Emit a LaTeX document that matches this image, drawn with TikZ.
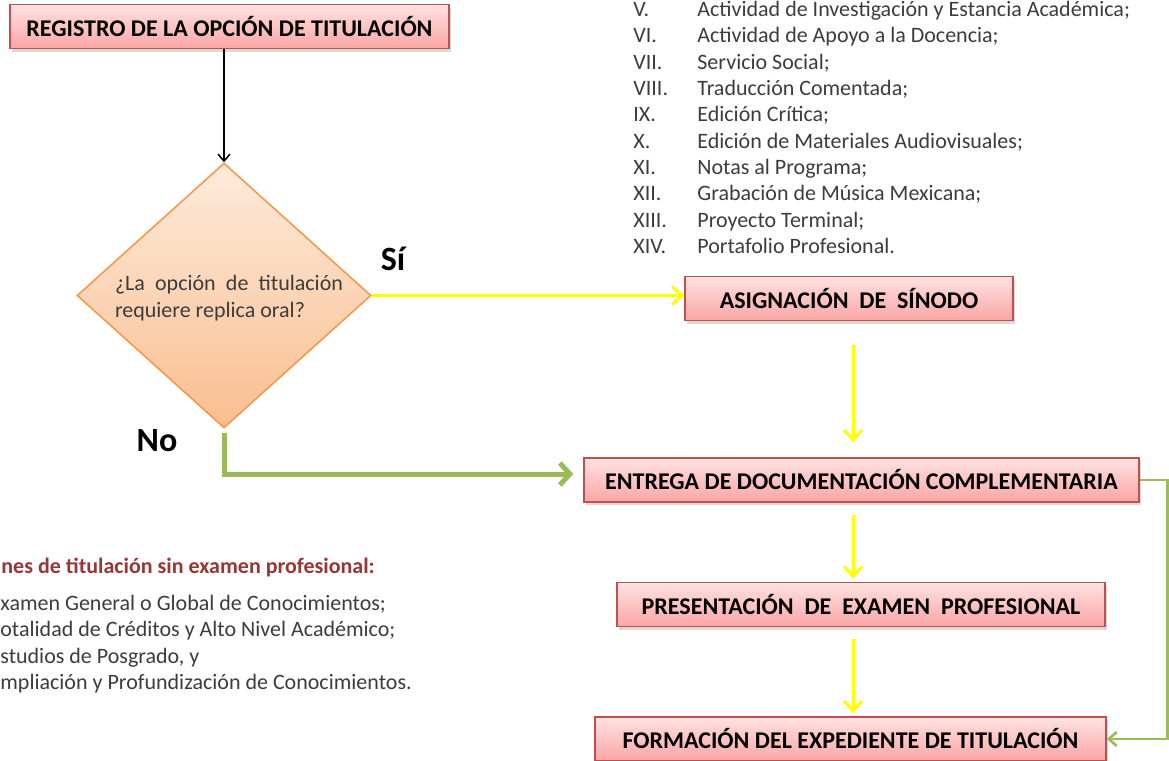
\documentclass[tikz,border=0pt]{standalone}
\usepackage{fontspec}
\setmainfont{Carlito}
\usetikzlibrary{shapes.geometric,arrows.meta,shadows}
\definecolor{cajaborde}{RGB}{192,80,77}
\definecolor{cajaarriba}{RGB}{255,226,226}
\definecolor{cajaabajo}{RGB}{250,165,165}
\definecolor{rombborde}{RGB}{247,150,70}
\definecolor{rombarriba}{RGB}{253,235,220}
\definecolor{rombabajo}{RGB}{250,190,143}
\definecolor{amarillo}{RGB}{255,255,0}
\definecolor{verdeflecha}{RGB}{155,187,89}
\definecolor{titulo}{RGB}{150,55,52}
\definecolor{texto}{RGB}{60,60,60}
\begin{document}
\begin{tikzpicture}[x=0.5pt,y=-0.5pt,
		caja/.style={draw=cajaborde,line width=0.75pt,top color=cajaarriba,bottom color=cajaabajo,
			drop shadow={opacity=0.3,shadow xshift=1pt,shadow yshift=-1.5pt},
			inner sep=0pt,minimum height=22pt,font=\fontsize{12}{14}\selectfont\bfseries},
		amarilla/.style={draw=amarillo,line width=1.5pt,-{Straight Barb[length=5pt,width=9pt]}},
		verde/.style={draw=verdeflecha,line width=2.5pt,-{Straight Barb[length=5pt,width=11pt]}},
		verdefina/.style={draw=verdeflecha,line width=1.3pt,-{Straight Barb[length=4pt,width=7pt]}},
		lista/.style={inner sep=0pt,anchor=base west,text=texto,font=\fontsize{11}{13.17}\selectfont}]
	\useasboundingbox (0,0) rectangle (1169,761);
	\node[caja,minimum width=219.5pt] (registro) at (229.5,26.5) {REGISTRO DE LA OPCIÓN DE TITULACIÓN};
	\node[diamond,draw=rombborde,line width=0.75pt,top color=rombarriba,bottom color=rombabajo,
		inner sep=0pt,minimum width=147pt,minimum height=132.5pt] (decision) at (224,295.5) {};
	\node[text width=114pt,align=justify,inner sep=0pt,text=texto,
		font={\fontsize{11}{13.5}\selectfont\hyphenpenalty10000\relax}] (pregunta) at (229,298) {¿La opción de titulación requiere replica oral?};
	\node[caja,minimum width=164pt] (asignacion) at (849,298.5) {ASIGNACIÓN\ \ DE\ \ SÍNODO};
	\node[caja,minimum width=277.5pt] (entrega) at (861.5,480) {ENTREGA DE DOCUMENTACIÓN COMPLEMENTARIA};
	\node[caja,minimum width=244pt] (presentacion) at (861,604.5) {PRESENTACIÓN\ \ DE\ \ EXAMEN\ \ PROFESIONAL};
	\node[caja,minimum width=255.5pt] (formacion) at (850.5,739) {FORMACIÓN DEL EXPEDIENTE DE TITULACIÓN};
	\node[font=\fontsize{17}{20}\selectfont\bfseries] (si) at (393,259) {Sí};
	\node[font=\fontsize{17}{20}\selectfont\bfseries] (no) at (157,441) {No};
	\draw[line width=0.75pt,-{Straight Barb[length=3.5pt,width=6pt]}] (registro.south -| decision.north) -- (decision.north);
	\draw[amarilla] (decision.east) -- (decision.east -| asignacion.west);
	\draw[amarilla,shorten <=12pt,shorten >=7.5pt] ([xshift=2pt]asignacion.south) -- ([xshift=2pt]asignacion.south |- entrega.north);
	\draw[amarilla,shorten <=6pt,shorten >=1.5pt] ([xshift=-4.25pt]entrega.south) -- ([xshift=-4.25pt]entrega.south |- presentacion.north);
	\draw[amarilla,shorten <=6pt,shorten >=1.5pt] ([xshift=-4pt]presentacion.south) -- ([xshift=-4pt]presentacion.south |- formacion.north);
	\draw[verde,shorten <=2pt,shorten >=5pt] (decision.south) |- ([yshift=3pt]entrega.west);
	\draw[verdefina] (entrega.east) -- ++(14pt,0) |- (formacion.east);
	\node[lista] (opciones) at (633,16.5) {\begin{tabular}[t]{@{}p{32pt}@{}l@{}}
		V. & Actividad de Investigación y Estancia Académica;\\
		VI. & Actividad de Apoyo a la Docencia;\\
		VII. & Servicio Social;\\
		VIII. & Traducción Comentada;\\
		IX. & Edición Crítica;\\
		X. & Edición de Materiales Audiovisuales;\\
		XI. & Notas al Programa;\\
		XII. & Grabación de Música Mexicana;\\
		XIII. & Proyecto Terminal;\\
		XIV. & Portafolio Profesional.
	\end{tabular}};
	\node[lista,text=titulo,font=\fontsize{11}{13.17}\selectfont\bfseries] (encabezado) at (1,573) {nes de titulación sin examen profesional:};
	\node[lista,font=\fontsize{11}{13.3}\selectfont] (sinexamen) at (0,610) {\begin{tabular}[t]{@{}l@{}}
		xamen General o Global de Conocimientos;\\
		otalidad de Créditos y Alto Nivel Académico;\\
		studios de Posgrado, y\\
		mpliación y Profundización de Conocimientos.
	\end{tabular}};
\end{tikzpicture}
\end{document}
